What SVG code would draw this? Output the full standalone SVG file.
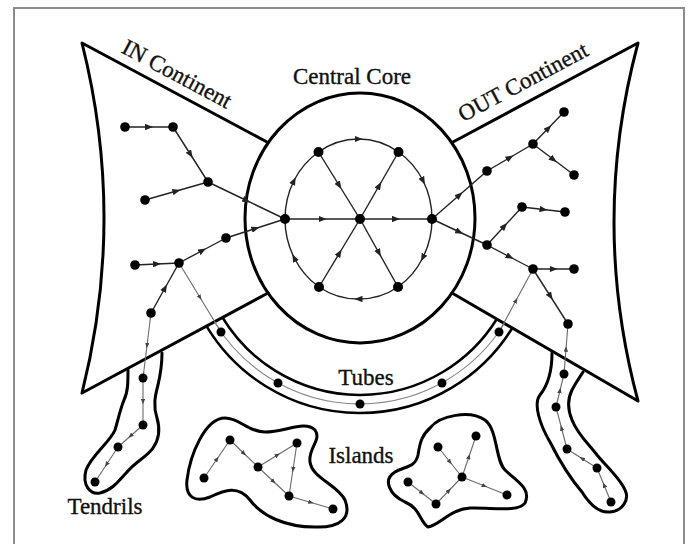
<svg xmlns="http://www.w3.org/2000/svg" width="688" height="544" viewBox="0 0 688 544">
<defs>
<style>
.bd{fill:none;stroke:#000;stroke-width:3;stroke-linejoin:round;stroke-linecap:round}
.bd2{fill:none;stroke:#000;stroke-width:2.5}
.e{fill:none;stroke:#222;stroke-width:1.4;marker-mid:url(#a)}
.g{fill:none;stroke:#6a6a6a;stroke-width:1.1;marker-mid:url(#b)}
.gl{fill:none;stroke:#8a8a8a;stroke-width:1.1}
.n{fill:#000}
.t{font-family:"Liberation Serif","Times New Roman",serif;font-size:23px;fill:#111;stroke:#111;stroke-width:0.35}
</style>
<marker id="a" viewBox="0 0 10 8" refX="5" refY="4" markerWidth="8" markerHeight="6.4" markerUnits="userSpaceOnUse" orient="auto"><path d="M0,0 L10,4 L0,8 z" fill="#222"/></marker>
<marker id="b" viewBox="0 0 10 8" refX="5" refY="4" markerWidth="5.5" markerHeight="4.4" markerUnits="userSpaceOnUse" orient="auto"><path d="M0,0 L10,4 L0,8 z" fill="#444"/></marker>
</defs>
<rect x="0" y="0" width="688" height="544" fill="#fff"/>
<rect x="14" y="8" width="670" height="545" fill="none" stroke="#8c8c8c" stroke-width="2"/>

<g id="in-continent">
<path class="bd" d="M267,142 L82,43 Q126,218 82,393 L268,293"/>
<text class="t" transform="translate(173.5,80.5) rotate(28.2)" text-anchor="middle">IN Continent</text>
</g>
<g id="out-continent">
<path class="bd" d="M453,142 L638,43 Q590,222 638,401 L452,293"/>
<text class="t" transform="translate(526.5,88.5) rotate(-28)" text-anchor="middle">OUT Continent</text>
</g>
<g id="central-core">
<ellipse class="bd" cx="360" cy="218" rx="115" ry="125"/>
<text class="t" x="352" y="84" text-anchor="middle">Central Core</text>
</g>
<g id="tubes">
<path class="bd2" d="M206.5,326.1 A179,179 0 0 0 512.3,328"/>
<path class="bd2" d="M222.5,317.5 A161,161 0 0 0 496.8,319"/>
<text class="t" x="366" y="385" text-anchor="middle">Tubes</text>
</g>
<g id="tendrils-in">
<path class="bd" d="M128,370 C128,382 128,392 124,400 C120,410 118,420 115,430 C110,442 92,455 86,470 C82,485 90,495 100,493 C112,490 118,482 127,472 C135,462 148,456 153,448 C160,438 160,428 157,418 C153,406 155,396 158,385 C161,372 162,362 162,353"/>
<text class="t" x="105" y="514" text-anchor="middle">Tendrils</text>
</g>
<g id="tendrils-out">
<path class="bd" d="M552,353 C552,370 548,385 540,395 C533,404 540,425 550,442 C558,458 570,478 582,492 C590,505 600,513 610,512 C622,511 630,500 625,490 C620,478 605,465 597,455 C588,443 578,435 572,420 C567,408 568,398 572,390 C576,382 580,377 583,372"/>
</g>
<g id="island-left">
<path class="bd" d="M225,418 C205,418 190,455 187,480 C185,497 195,503 210,497 C225,490 238,485 250,500 C262,516 285,527 315,527 C340,528 352,518 345,500 C338,485 312,478 310,462 C308,448 322,440 315,430 C305,420 285,432 265,432 C248,432 240,418 225,418 Z"/>
</g>
<g id="island-right">
<path class="bd" d="M430,428 C440,415 470,410 485,420 C498,430 495,460 505,470 C515,480 532,488 525,503 C518,513 490,507 470,508 C450,509 440,525 428,527 C420,522 420,508 405,502 C390,495 382,480 395,472 C405,466 415,468 418,455 C420,442 422,435 430,428 Z"/>
<text class="t" x="361" y="463" text-anchor="middle">Islands</text>
</g>

<g id="connectors">
<path class="e" d="M125,127 L149,127 L173,127"/>
<path class="e" d="M173,127 L190.5,154.5 L208,182"/>
<path class="e" d="M145,200 L176.5,191 L208,182"/>
<path class="e" d="M208,182 L246.5,200.5 L285,219"/>
<path class="e" d="M135,265 L157,264 L179,263"/>
<path class="e" d="M179,263 L202.5,250.5 L226,238"/>
<path class="e" d="M226,238 L255.5,228.5 L285,219"/>
<path class="e" d="M151,313 L165,288 L179,263"/>
<path class="e" d="M285,219 L322.5,219 L360,219"/>
<path class="e" d="M360,219 L396,219 L432,219"/>
<path class="e" d="M318.5,152 L339.25,185.5 L360,219"/>
<path class="e" d="M360,219 L379.25,185.5 L398.5,152"/>
<path class="e" d="M319,287 L339.5,253 L360,219"/>
<path class="e" d="M360,219 L379,253 L398,287"/>
<path class="e" d="M285,219 A73.5,80 0 0 1 293.9,180.8 A73.5,80 0 0 1 318.5,152"/>
<path class="e" d="M318.5,152 A73.5,80 0 0 1 358.5,139 A73.5,80 0 0 1 398.5,152"/>
<path class="e" d="M398.5,152 A73.5,80 0 0 1 423.1,180.8 A73.5,80 0 0 1 432,219"/>
<path class="e" d="M432,219 A73.5,80 0 0 1 422.8,257.8 A73.5,80 0 0 1 398,287"/>
<path class="e" d="M398,287 A73.5,80 0 0 1 358.5,299 A73.5,80 0 0 1 319,287"/>
<path class="e" d="M319,287 A73.5,80 0 0 1 294.2,257.8 A73.5,80 0 0 1 285,219"/>
<path class="e" d="M432,219 L459.5,195 L487,171"/>
<path class="e" d="M487,171 L510,157.5 L533,144"/>
<path class="e" d="M533,144 L548.5,128 L564,112"/>
<path class="e" d="M533,144 L553.5,159.5 L574,175"/>
<path class="e" d="M432,219 L459.5,232 L487,245"/>
<path class="e" d="M487,245 L504.5,226 L522,207"/>
<path class="e" d="M522,207 L543.5,209.5 L565,212"/>
<path class="e" d="M487,245 L510,257 L533,269"/>
<path class="e" d="M533,269 L553.5,269 L574,269"/>
<path class="e" d="M533,269 L550.5,296.5 L568,324"/>
<path class="g" d="M179,263 L200,297.5 L221,332"/>
<path class="gl" d="M214.5,322 A170,170 0 0 0 504.5,323.3"/>
<path class="g" d="M499,332 L516,300.5 L533,269"/>
<path class="g" d="M151,313 L147,345.5 L143,378"/>
<path class="g" d="M143,378 L143,401.5 L143,425"/>
<path class="g" d="M143,425 L130.5,436 L118,447"/>
<path class="g" d="M118,447 L106.5,464.5 L95,482"/>
<path class="g" d="M564,374 L566,349 L568,324"/>
<path class="g" d="M556,407 L560,390.5 L564,374"/>
<path class="g" d="M567,449 L561.5,428 L556,407"/>
<path class="g" d="M597,468 L582,458.5 L567,449"/>
<path class="g" d="M611,502 L604,485 L597,468"/>
<path class="g" d="M204,478 L217,459 L230,440"/>
<path class="g" d="M230,440 L244,453.5 L258,467"/>
<path class="g" d="M258,467 L277.5,455 L297,443"/>
<path class="g" d="M297,443 L293,469.5 L289,496"/>
<path class="g" d="M258,467 L273.5,481.5 L289,496"/>
<path class="g" d="M289,496 L311,502.5 L333,509"/>
<path class="g" d="M438,447 L450,462 L462,477"/>
<path class="g" d="M462,477 L469,456.5 L476,436"/>
<path class="g" d="M408,482 L422,493 L436,504"/>
<path class="g" d="M436,504 L449,490.5 L462,477"/>
<path class="g" d="M462,477 L484.5,486 L507,495"/>
</g>

<g id="nodes">
<g id="in-nodes" class="n">
<circle cx="125" cy="127" r="4.8"/><circle cx="173" cy="127" r="4.8"/><circle cx="208" cy="182" r="4.8"/>
<circle cx="145" cy="200" r="4.8"/><circle cx="226" cy="238" r="4.8"/><circle cx="135" cy="265" r="4.8"/>
<circle cx="179" cy="263" r="4.8"/><circle cx="151" cy="313" r="4.8"/>
</g>
<g id="core-nodes" class="n">
<circle cx="285" cy="219" r="5"/><circle cx="360" cy="219" r="5"/><circle cx="432" cy="219" r="5"/>
<circle cx="318.5" cy="152" r="5"/><circle cx="398.5" cy="152" r="5"/><circle cx="319" cy="287" r="5"/><circle cx="398" cy="287" r="5"/>
</g>
<g id="out-nodes" class="n">
<circle cx="487" cy="171" r="4.8"/><circle cx="533" cy="144" r="4.8"/><circle cx="564" cy="112" r="4.8"/><circle cx="574" cy="175" r="4.8"/>
<circle cx="487" cy="245" r="4.8"/><circle cx="522" cy="207" r="4.8"/><circle cx="565" cy="212" r="4.8"/>
<circle cx="533" cy="269" r="4.8"/><circle cx="574" cy="269" r="4.8"/><circle cx="568" cy="324" r="4.8"/>
</g>
<g id="tube-nodes" class="n">
<circle cx="221" cy="332" r="4.5"/><circle cx="278" cy="383" r="4.5"/><circle cx="360" cy="404" r="4.5"/><circle cx="442" cy="383" r="4.5"/><circle cx="499" cy="332" r="4.5"/>
</g>
<g id="tendril-nodes" class="n">
<circle cx="143" cy="378" r="4.5"/><circle cx="143" cy="425" r="4.5"/><circle cx="118" cy="447" r="4.5"/><circle cx="95" cy="482" r="4.5"/>
<circle cx="564" cy="374" r="4.5"/><circle cx="556" cy="407" r="4.5"/><circle cx="567" cy="449" r="4.5"/><circle cx="597" cy="468" r="4.5"/><circle cx="611" cy="502" r="4.5"/>
</g>
<g id="island-nodes" class="n">
<circle cx="230" cy="440" r="4.5"/><circle cx="204" cy="478" r="4.5"/><circle cx="258" cy="467" r="4.5"/><circle cx="297" cy="443" r="4.5"/><circle cx="289" cy="496" r="4.5"/><circle cx="333" cy="509" r="4.5"/>
<circle cx="438" cy="447" r="4.5"/><circle cx="476" cy="436" r="4.5"/><circle cx="408" cy="482" r="4.5"/><circle cx="462" cy="477" r="4.5"/><circle cx="436" cy="504" r="4.5"/><circle cx="507" cy="495" r="4.5"/>
</g>
</g>
</svg>
